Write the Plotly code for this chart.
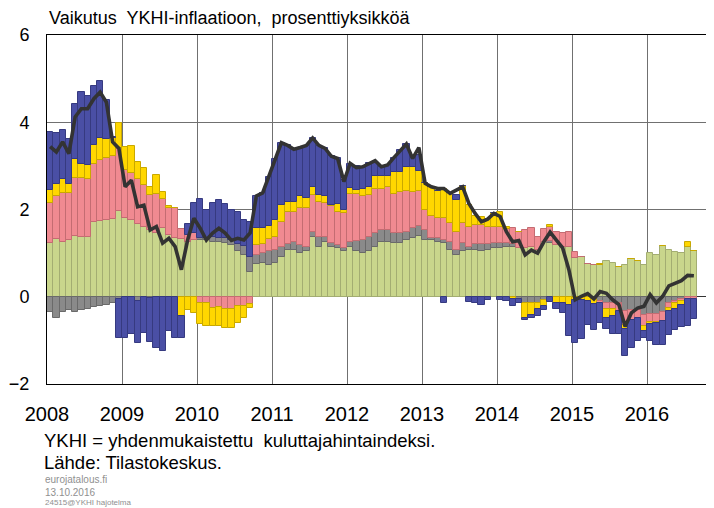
import plotly.graph_objects as go

# ---------------- data (monthly, Jan 2008 .. Aug 2016) ----------------
years = ["2008", "2009", "2010", "2011", "2012", "2013", "2014", "2015", "2016"]

green = [
    1.24, 1.32, 1.26, 1.29, 1.39, 1.36, 1.36, 1.72, 1.74, 1.76, 1.78, 1.97,
    1.80, 1.76, 1.67, 1.61, 1.53, 1.46, 1.58, 1.42, 1.34, 1.32, 1.26, 1.30,
    1.30, 1.30, 1.26, 1.26, 1.23, 1.19, 1.05, 0.95, 0.56, 0.75, 0.78, 0.72,
    0.78, 0.91, 1.07, 1.07, 1.01, 1.04, 1.38, 1.15, 1.26, 1.15, 1.11, 1.06,
    1.15, 1.04, 1.01, 1.04, 1.15, 1.26, 1.26, 1.24, 1.23, 1.30, 1.34, 1.40,
    1.30, 1.30, 1.26, 1.23, 1.07, 0.96, 1.04, 1.07, 1.07, 1.06, 1.07, 1.11,
    1.11, 1.13, 1.15, 1.11, 1.11, 1.15, 1.07, 1.26, 1.23, 1.19, 1.15, 1.15,
    0.88, 0.92, 0.75, 0.72, 0.72, 0.83, 0.78, 0.69, 0.73, 0.86, 0.81, 0.73,
    1.00, 0.95, 1.17, 1.08, 1.03, 1.00, 1.15, 1.04,
]
grey = [
    -0.34, -0.49, -0.36, -0.31, -0.34, -0.31, -0.28, -0.24, -0.22, -0.18, -0.15, -0.05,
    0.00, 0.00, -0.10, 0.00, -0.03, 0.00, 0.00, 0.00, 0.00, 0.00, 0.00, 0.00,
    0.05, 0.05, 0.10, 0.08, 0.12, 0.11, 0.15, 0.22, 0.36, 0.21, 0.22, 0.33,
    0.29, 0.24, 0.15, 0.19, 0.18, 0.10, 0.11, 0.23, 0.12, 0.08, 0.08, 0.05,
    0.10, 0.23, 0.29, 0.34, 0.30, 0.27, 0.27, 0.21, 0.24, 0.19, 0.23, 0.22,
    0.23, 0.04, 0.08, 0.08, 0.19, 0.11, 0.19, 0.08, 0.15, 0.15, 0.15, 0.12,
    0.12, 0.10, 0.06, -0.05, -0.14, -0.14, -0.14, -0.08, 0.04, 0.00, 0.00, 0.00,
    0.00, 0.00, 0.00, -0.05, -0.10, -0.14, -0.14, -0.14, -0.32, -0.30, -0.30, -0.41,
    -0.40, -0.40, -0.35, -0.15, -0.10, -0.05, 0.00, 0.00,
]
pink = [
    0.91, 0.98, 1.11, 1.08, 1.34, 1.37, 1.34, 1.33, 1.39, 1.43, 1.45, 1.43,
    1.10, 1.07, 1.04, 0.95, 0.80, 0.90, 0.66, 0.61, 0.69, 0.23, 0.15, 0.16,
    -0.15, -0.14, -0.26, -0.24, -0.28, -0.28, -0.22, -0.22, -0.17, 0.23, 0.22, 0.27,
    0.30, 0.57, 0.72, 0.69, 0.84, 0.89, 0.84, 0.80, 0.76, 0.84, 0.76, 0.80,
    1.10, 1.09, 1.01, 0.95, 1.03, 0.95, 0.99, 0.91, 0.94, 0.94, 0.82, 0.80,
    0.46, 0.50, 0.46, 0.50, 0.42, 0.42, 0.46, 0.46, 0.42, 0.43, 0.38, 0.38,
    0.38, 0.32, 0.36, 0.38, 0.42, 0.42, 0.30, 0.30, 0.34, 0.30, 0.30, 0.34,
    0.15, 0.00, 0.00, 0.00, -0.05, -0.15, -0.15, -0.19, -0.32, -0.23, -0.19, -0.27,
    -0.17, -0.18, -0.20, -0.10, -0.05, -0.05, -0.06, -0.05,
]
yellow = [
    0.30, 0.28, 0.34, 0.21, 0.43, 0.32, 0.32, 0.42, 0.50, 0.43, 0.40, 0.59,
    0.53, 0.62, 0.38, 0.38, 0.19, 0.43, 0.16, 0.04, 0.00, -0.45, -0.30, -0.37,
    -0.48, -0.52, -0.40, -0.44, -0.44, -0.44, -0.38, -0.27, -0.09, 0.38, 0.35, 0.30,
    0.38, 0.38, 0.23, 0.23, 0.28, 0.23, 0.19, 0.15, 0.17, 0.04, 0.18, 0.08,
    0.15, 0.08, 0.15, 0.19, 0.28, 0.28, 0.24, 0.50, 0.46, 0.55, 0.59, 0.47,
    0.61, 0.68, 0.63, 0.67, 0.70, 0.72, 0.84, 0.50, 0.20, 0.19, 0.19, 0.30,
    0.34, 0.06, -0.05, 0.00, -0.34, -0.27, -0.15, -0.13, 0.04, -0.14, -0.14, -0.20,
    -0.07, -0.07, -0.10, -0.12, 0.02, -0.19, -0.15, 0.00, -0.11, 0.00, 0.00, -0.11,
    -0.05, -0.02, 0.00, -0.08, -0.12, -0.10, 0.11, 0.02,
]
blue = [
    1.33, 1.18, 1.12, 1.03, 1.26, 1.64, 1.58, 1.37, 1.32, 0.88, 0.03, -0.90,
    -0.94, -0.85, -0.95, -0.84, -1.00, -1.17, -1.25, -0.79, -0.94, -0.50, 0.25, 0.70,
    0.88, 0.64, 0.80, 0.88, 0.78, 0.69, 0.75, 0.60, 0.80, 0.75, 0.80, 1.13,
    1.41, 1.43, 1.32, 1.20, 1.11, 1.19, 1.11, 1.12, 1.09, 1.11, 1.04, 0.68,
    0.55, 0.55, 0.50, 0.54, 0.32, 0.21, 0.26, 0.33, 0.49, 0.52, 0.19, 0.35,
    0.00, 0.00, 0.00, -0.15, 0.00, 0.12, 0.00, -0.12, -0.15, -0.18, -0.08, 0.00,
    -0.07, -0.10, -0.17, -0.10, -0.05, -0.08, -0.15, -0.10, -0.12, -0.15, -0.23, -0.70,
    -1.00, -0.90, -0.55, -0.60, -0.45, -0.25, -0.42, -0.53, -0.61, -0.65, -0.53, -0.15,
    -0.40, -0.50, -0.55, -0.55, -0.50, -0.50, -0.60, -0.45,
]
ykhi = [
    3.44, 3.32, 3.55, 3.28, 4.12, 4.31, 4.31, 4.54, 4.69, 4.46, 3.55, 3.40,
    2.52, 2.67, 2.06, 2.10, 1.53, 1.61, 1.23, 1.34, 1.15, 0.62, 1.30, 1.80,
    1.57, 1.30, 1.46, 1.57, 1.46, 1.29, 1.34, 1.30, 1.46, 2.31, 2.38, 2.75,
    3.13, 3.53, 3.47, 3.38, 3.42, 3.47, 3.64, 3.47, 3.40, 3.22, 3.17, 2.64,
    3.06, 2.96, 2.98, 3.06, 3.12, 2.98, 3.02, 3.19, 3.36, 3.50, 3.17, 3.42,
    2.60, 2.52, 2.48, 2.48, 2.37, 2.45, 2.52, 2.14, 1.91, 1.72, 1.78, 1.91,
    1.84, 1.49, 1.26, 1.29, 0.96, 1.07, 1.00, 1.26, 1.48, 1.30, 1.12, 0.62,
    -0.07, 0.01, 0.07, -0.05, 0.12, 0.08, -0.07, -0.18, -0.68, -0.37, -0.26, -0.22,
    0.05, -0.14, 0.01, 0.25, 0.30, 0.37, 0.49, 0.48,
]

y_ticks = [-2, 0, 2, 4, 6]
y_ticktext = ["\u22122", "0", "2", "4", "6"]

title_text = "Vaikutus  YKHI-inflaatioon,  prosenttiyksikköä"
note1 = "YKHI = yhdenmukaistettu  kuluttajahintaindeksi."
note2 = "Lähde: Tilastokeskus."
small1 = "eurojatalous.fi"
small2 = "13.10.2016"
small3 = "24515@YKHI hajotelma"

# ---------------- figure ----------------
# the page body has an 8 px margin, so the figure is drawn 8 px in from the corner
OFF = 8
W, H = 714 - OFF, 508 - OFF
L, R, T, B = 47 - OFF, 1, 35 - OFF, 508 - 384
pw, ph = W - L - R, H - T - B

n = len(green)
months = [i + 0.5 for i in range(n)]   # bar centres, month units from Jan 2008
year_ticks = [12 * i for i in range(len(years))]

series = [
    (green, "#c9d68c", "#a3ad72"),
    (grey, "#8a8a8a", "#6a6a6a"),
    (pink, "#f08a91", "#c46c72"),
    (yellow, "#ffd700", "#c9a800"),
    (blue, "#4a4fa5", "#363a80"),
]

fig = go.Figure()
for vals, col, edge in series:
    fig.add_trace(go.Bar(
        x=months, y=vals, width=1.0,
        marker=dict(color=col, line=dict(color=edge, width=1)),
        showlegend=False,
    ))
fig.add_trace(go.Scatter(
    x=months, y=ykhi, mode="lines",
    line=dict(color="#333333", width=3.6),
    showlegend=False,
))

FONT = "Liberation Sans, Arial, sans-serif"
month_span = pw / 6.25

fig.update_layout(
    width=W, height=H,
    margin=dict(l=L, r=R, t=T, b=B, pad=0, autoexpand=False),
    barmode="relative", bargap=0,
    paper_bgcolor="white", plot_bgcolor="white",
    font=dict(family=FONT, color="black", size=17),
    xaxis=dict(
        range=[0, month_span],
        tickmode="array", tickvals=year_ticks, ticktext=years,
        showgrid=True, gridcolor="#707070", gridwidth=1,
        showline=True, linecolor="black", linewidth=1, mirror=True,
        ticks="", ticklabelstandoff=12, zeroline=False,
        tickfont=dict(size=20), automargin=False,
    ),
    yaxis=dict(
        range=[-2, 6], tickmode="array", tickvals=y_ticks, ticktext=y_ticktext,
        showgrid=True, gridcolor="#707070", gridwidth=1,
        showline=True, linecolor="black", linewidth=1, mirror=True,
        zeroline=True, zerolinecolor="#333333", zerolinewidth=1,
        ticks="", ticklabelstandoff=13,
        tickfont=dict(size=18), automargin=False,
    ),
)

def px_x(px):
    return (px - OFF - L) / pw

def px_y(py):
    return (H - B - (py - OFF)) / ph

ann = [
    (title_text, 47, 18, 18, "black"),
    (note1, 42, 440, 18.5, "black"),
    (note2, 42, 462, 18.5, "black"),
    (small1, 43, 480, 10, "#909090"),
    (small2, 43, 492, 10, "#909090"),
    (small3, 43, 502, 8, "#909090"),
]
for text, x, y, size, col in ann:
    fig.add_annotation(
        text=text, xref="paper", yref="paper",
        x=px_x(x), y=px_y(y), xanchor="left", yanchor="middle",
        showarrow=False, font=dict(size=size, color=col, family=FONT),
    )

fig.write_html("out.html")
